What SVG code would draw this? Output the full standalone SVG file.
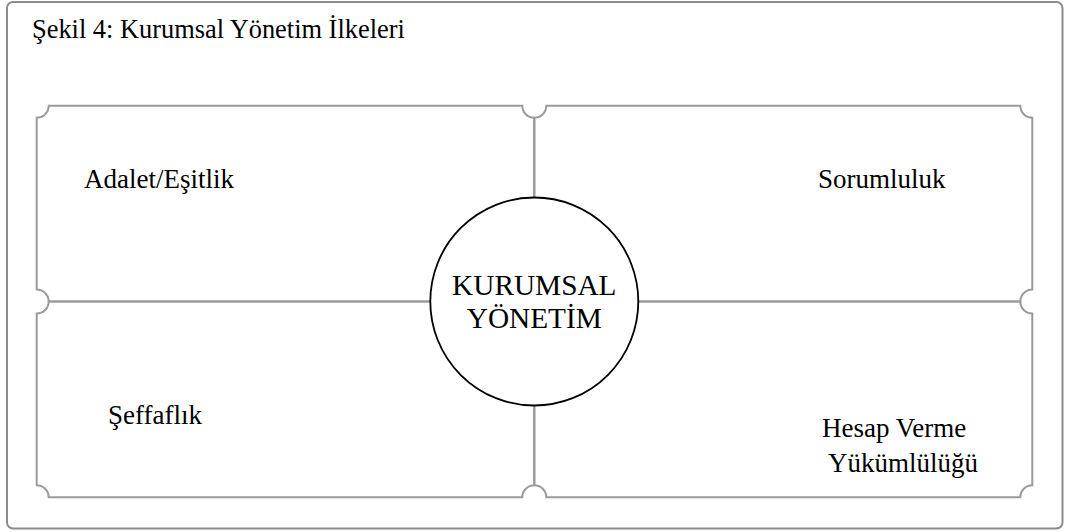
<svg xmlns="http://www.w3.org/2000/svg" width="1069" height="532" viewBox="0 0 1069 532">
<style>
.frame{fill:#fff;stroke:#8c8c8c;stroke-width:2}
.panel{fill:none;stroke:#9a9a9a;stroke-width:2}
.hub{fill:#fff;stroke:#000;stroke-width:1.8}
text{font-family:"Liberation Serif","Times New Roman",serif;fill:#000}
.t{font-size:26.4px}
.l{font-size:27px}
.c{font-size:29.3px;text-anchor:middle}
</style>
<rect width="1069" height="532" fill="#fff"/>
<rect class="frame" x="7" y="2" width="1055.5" height="526.5" rx="6"/>
<text class="t" x="32" y="38">Şekil 4: Kurumsal Yönetim İlkeleri</text>
<g id="connectors">
<path class="panel" d="M48.7,105.7 H522.3 A12,12 0 0 0 534.3,117.7 V289.5 A12,12 0 0 0 522.3,301.5 H48.7 A12,12 0 0 0 36.7,289.5 V117.7 A12,12 0 0 0 48.7,105.7 Z"/>
<path class="panel" d="M546.3,105.7 H1020.3 A12,12 0 0 0 1032.3,117.7 V289.5 A12,12 0 0 0 1020.3,301.5 H546.3 A12,12 0 0 0 534.3,289.5 V117.7 A12,12 0 0 0 546.3,105.7 Z"/>
<path class="panel" d="M48.7,301.5 H522.3 A12,12 0 0 0 534.3,313.5 V485.3 A12,12 0 0 0 522.3,497.3 H48.7 A12,12 0 0 0 36.7,485.3 V313.5 A12,12 0 0 0 48.7,301.5 Z"/>
<path class="panel" d="M546.3,301.5 H1020.3 A12,12 0 0 0 1032.3,313.5 V485.3 A12,12 0 0 0 1020.3,497.3 H546.3 A12,12 0 0 0 534.3,485.3 V313.5 A12,12 0 0 0 546.3,301.5 Z"/>
</g>
<g id="adalet"><text class="l" x="84" y="188">Adalet/Eşitlik</text></g>
<g id="sorumluluk"><text class="l" x="818" y="188">Sorumluluk</text></g>
<g id="seffaflik"><text class="l" x="108" y="424">Şeffaflık</text></g>
<g id="hesap"><text class="l" x="822" y="437">Hesap Verme</text><text class="l" x="828" y="472">Yükümlülüğü</text></g>
<g id="kurumsal">
<circle class="hub" cx="534.3" cy="301.5" r="104"/>
<text class="c" x="534.3" y="295">KURUMSAL</text>
<text class="c" x="534.3" y="328">YÖNETİM</text>
</g>
</svg>
